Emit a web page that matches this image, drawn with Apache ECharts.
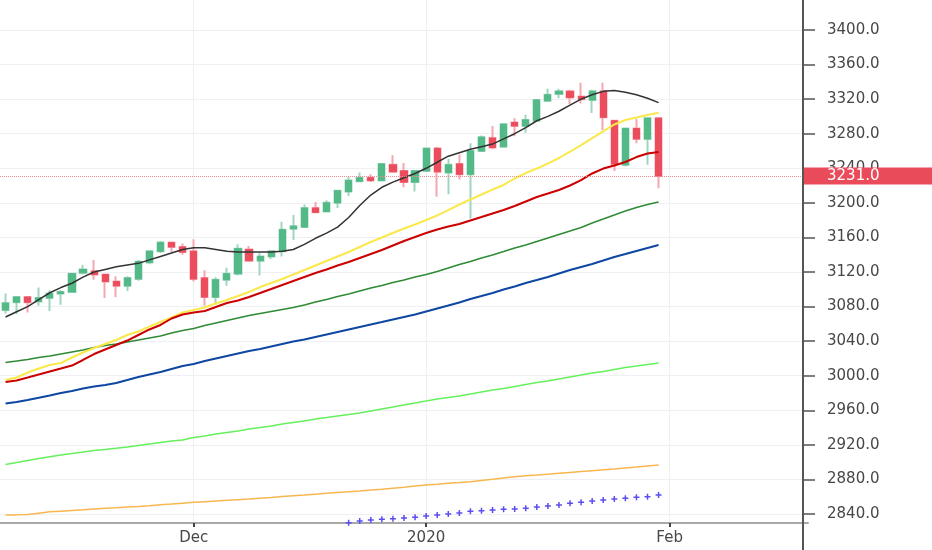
<!DOCTYPE html>
<html>
<head>
<meta charset="utf-8">
<title>Daily candles with moving averages</title>
<script src="https://cdn.jsdelivr.net/npm/echarts@6.0.0/dist/echarts.min.js"></script>
<style>
  html, body { margin: 0; padding: 0; background: #fff; }
  #main { width: 932px; height: 550px; }
</style>
</head>
<body>
<div id="main"></div>
<script>
// trading days, then empty days on the right side of the chart
var dates = [
  '2019-11-07','2019-11-08','2019-11-11','2019-11-12','2019-11-13','2019-11-14','2019-11-15',
  '2019-11-18','2019-11-19','2019-11-20','2019-11-21','2019-11-22','2019-11-25','2019-11-26',
  '2019-11-27','2019-11-28','2019-11-29',
  '2019-12-02','2019-12-03','2019-12-04','2019-12-05','2019-12-06','2019-12-09','2019-12-10',
  '2019-12-11','2019-12-12','2019-12-13','2019-12-16','2019-12-17','2019-12-18','2019-12-19',
  '2019-12-20','2019-12-23','2019-12-24','2019-12-26','2019-12-27','2019-12-30','2019-12-31',
  '2020-01-02','2020-01-03','2020-01-06','2020-01-07','2020-01-08','2020-01-09','2020-01-10',
  '2020-01-13','2020-01-14','2020-01-15','2020-01-16','2020-01-17','2020-01-20','2020-01-21',
  '2020-01-22','2020-01-23','2020-01-24','2020-01-27','2020-01-28','2020-01-29','2020-01-30',
  '2020-01-31',
  '2020-02-03','2020-02-04','2020-02-05','2020-02-06','2020-02-07','2020-02-10','2020-02-11',
  '2020-02-12','2020-02-13','2020-02-14','2020-02-17','2020-02-18','2020-02-19'
];
// x axis labels
var monthTicks = { '2019-12-02': 'Dec', '2020-01-02': '2020', '2020-02-03': 'Feb' };
// y axis labels
var priceTicks = [2840, 2880, 2920, 2960, 3000, 3040, 3080, 3120, 3160, 3200, 3240, 3280, 3320, 3360, 3400];

var opens = [3076,3085,3091,3086,3090,3095,3097,3119,3121,3117,3109,3104,3112,3131,3144,3154,3149,3144,3113,3091,
             3111,3118,3146,3133,3138,3144,3170,3172,3194,3190,3200,3213,3225,3229,3226,3244,3237,3224,3237,3263,
             3235,3245,3233,3260,3275,3265,3293,3289,3295,3318,3326,3329,3323,3319,3329,3295,3244,3286,3274,3298];
var highs = [3095,3092,3092,3102,3099,3099,3119,3128,3134,3118,3115,3115,3134,3145,3156,3155,3153,3158,3122,3114,
             3125,3152,3150,3142,3145,3178,3186,3198,3201,3203,3215,3230,3235,3233,3246,3255,3246,3238,3264,3265,
             3251,3256,3269,3278,3289,3292,3298,3302,3320,3332,3332,3331,3339,3331,3339,3295,3287,3297,3298,3298];
var lows = [3072,3071,3073,3081,3075,3082,3096,3117,3111,3090,3091,3098,3110,3129,3142,3143,3140,3109,3081,3082,
            3104,3116,3132,3116,3135,3138,3157,3171,3188,3189,3194,3208,3224,3224,3225,3235,3218,3213,3236,3207,
            3210,3227,3182,3259,3262,3264,3277,3281,3294,3317,3321,3314,3315,3304,3284,3237,3242,3269,3244,3217];
var closes = [3084,3091,3085,3090,3095,3097,3118,3123,3117,3109,3104,3113,3132,3144,3154,3149,3143,3112,3091,3111,
              3118,3147,3133,3138,3144,3169,3173,3194,3189,3200,3214,3226,3229,3226,3245,3236,3224,3237,3263,3236,
              3244,3233,3260,3276,3264,3291,3289,3296,3319,3325,3329,3322,3320,3329,3299,3245,3286,3274,3298,3231];

// moving averages
var maBlack = [3068,3074,3080,3088,3096,3102,3107,3114,3120,3123,3126,3128,3130,3134,3138,3142,3146,3148,3148,3146,
               3144,3143,3143,3143,3143,3144,3146,3152,3159,3165,3172,3183,3197,3209,3218,3224,3229,3234,3240,3247,
               3254,3258,3262,3265,3268,3274,3280,3287,3295,3300,3306,3313,3320,3325,3329,3330,3328,3325,3321,3316];
var maYellow = [2995.0,2997.9,3003.7,3008.3,3012.4,3014.7,3021.1,3026.9,3032.1,3036.7,3041.3,3047.1,3051.2,3056.9,3062.1,
                3067.4,3073.1,3076.0,3078.9,3083.6,3087.6,3092.2,3096.9,3102.6,3107.3,3111.9,3117.1,3122.3,3127.5,3132.7,
                3137.9,3143.1,3148.9,3154.7,3159.9,3165.1,3170.3,3175.0,3180.2,3185.4,3191.7,3198.1,3203.9,3209.7,3215.4,
                3220.7,3228.2,3234.5,3239.7,3245.5,3251.9,3259.4,3266.9,3275.0,3282.6,3290.7,3295.9,3298.8,3301.6,3304.3];
var maRed = [2992.7,2994.5,2997.9,3001.4,3004.9,3008.3,3011.8,3018.2,3025.1,3030.3,3035.5,3040.7,3047.1,3053.5,3058.7,
             3066.2,3070.8,3073.1,3074.9,3079.5,3084.1,3087.0,3091.1,3095.7,3100.3,3105.0,3109.6,3114.2,3118.8,3122.9,
             3127.5,3131.6,3136.2,3140.8,3145.4,3150.7,3155.9,3160.5,3165.1,3169.2,3172.6,3175.5,3179.6,3183.6,3187.7,
             3191.7,3196.4,3201.6,3206.8,3210.8,3214.9,3220.1,3226.4,3234.0,3239.7,3243.2,3247.3,3253.0,3257.1,3258.8];
var maGreen = [3015.3,3017.0,3018.8,3021.1,3022.8,3025.1,3027.4,3029.7,3032.6,3034.9,3036.7,3039.0,3041.3,3043.6,3045.9,
               3049.4,3052.3,3054.6,3058.1,3061.0,3063.9,3066.8,3069.7,3072.0,3074.3,3076.6,3078.9,3081.8,3085.3,3088.2,
               3091.6,3094.5,3098.0,3101.5,3104.4,3107.8,3110.7,3114.2,3117.1,3120.6,3124.6,3128.7,3132.1,3136.2,3139.7,
               3143.7,3147.8,3151.2,3155.3,3159.3,3163.4,3167.4,3171.5,3176.7,3181.3,3186.0,3190.6,3194.6,3198.1,3201.0];
var maBlue = [2967.9,2969.6,2971.9,2974.4,2977.1,2980.0,2982.3,2985.2,2987.5,2989.3,2991.6,2995.0,2998.5,3001.4,3004.3,
              3007.8,3011.2,3013.6,3017.0,3019.9,3022.8,3025.7,3028.6,3030.9,3033.8,3036.7,3039.6,3041.9,3044.8,3047.7,
              3050.6,3053.5,3056.4,3059.3,3062.1,3065.0,3067.9,3070.8,3074.3,3077.8,3081.2,3084.7,3088.8,3092.2,3095.7,
              3099.7,3103.2,3107.3,3110.7,3114.2,3118.3,3122.3,3125.8,3129.3,3133.3,3137.4,3140.8,3144.3,3147.8,3151.2];
var maLime = [2897.3,2899.6,2901.9,2904.2,2906.3,2908.3,2910.0,2911.7,2913.5,2914.6,2916.0,2917.5,2919.3,2921.0,2922.7,
              2924.5,2925.6,2928.5,2930.2,2932.6,2934.3,2936.0,2938.3,2940.1,2941.8,2944.1,2945.9,2947.6,2949.9,2951.6,
              2953.4,2955.1,2956.9,2959.2,2961.5,2963.8,2966.1,2968.4,2970.7,2973.1,2974.8,2976.5,2978.8,2981.2,2983.5,
              2985.2,2987.5,2989.8,2992.1,2993.9,2996.2,2998.5,3000.8,3003.1,3004.9,3007.2,3009.5,3011.2,3013.0,3014.7];
var maOrange = [2838.8,2839.0,2839.5,2841.0,2842.5,2843.3,2844.1,2844.9,2845.8,2846.6,2847.3,2848.1,2848.8,2849.6,2850.6,
                2851.5,2852.5,2853.5,2854.3,2855.1,2855.8,2856.6,2857.4,2858.3,2859.2,2860.2,2861.1,2862.0,2863.0,2863.9,
                2864.9,2865.8,2866.7,2867.7,2868.6,2869.9,2871.1,2872.4,2873.6,2874.5,2875.5,2876.4,2877.4,2878.9,2880.3,
                2881.8,2883.2,2884.2,2885.1,2886.1,2887.1,2888.1,2889.1,2890.1,2891.1,2892.1,2893.3,2894.4,2895.6,2896.7];
var maPurple = [null,null,null,null,null,null,null,null,null,null,null,null,null,null,null,
                null,null,null,null,null,null,null,null,null,null,null,null,null,null,null,
                2828.5,2829.9,2831.9,2833.1,2833.9,2834.6,2835.4,2836.2,2837.7,2838.8,2840.0,2841.2,2843.1,2843.8,2844.6,
                2845.4,2845.8,2846.6,2848.1,2849.3,2850.4,2852.4,2853.5,2855.0,2856.2,2857.4,2858.2,2859.3,2860.0,2862.0];

var textColor = '#474747';
var fontFamily = 'DejaVu Sans';

// full candle for the wicks, body-only candle on top of it
var sticks = opens.map(function (o, i) {
    return [o, closes[i], lows[i], highs[i]];
});
var bodies = opens.map(function (o, i) {
    var c = closes[i];
    return [o, c, Math.min(o, c), Math.max(o, c)];
});

function isMonthTick(idx, value) {
    return monthTicks[value] !== undefined;
}

function maLine(name, data, color, width) {
    return {
        name: name,
        type: 'line',
        data: data,
        symbol: 'none',
        silent: true,
        lineStyle: { color: color, width: width },
        itemStyle: { color: color }
    };
}

// faint grid, drawn through the axes' own scales
var gridLines = priceTicks.map(function (v) { return { yAxis: v }; });
Object.keys(monthTicks).forEach(function (d) { gridLines.push({ xAxis: d }); });

var orangeLine = maLine('MA orange', maOrange, '#f7b74f', 1.5);
orangeLine.markLine = {
    silent: true,
    symbol: 'none',
    z: 0,
    animation: false,
    label: { show: false },
    lineStyle: { color: '#eef0f4', width: 1, type: 'solid' },
    data: gridLines
};

var purpleLine = {
    name: 'MA purple',
    type: 'line',
    data: maPurple,
    symbol: 'path://M3,0H5V3H8V5H5V8H3V5H0V3H3Z',
    symbolSize: 6,
    showAllSymbol: true,
    silent: true,
    lineStyle: { width: 0 },
    itemStyle: { color: '#5b4ef0' }
};

var option = {
    animation: false,
    backgroundColor: '#ffffff',
    grid: { left: -2, right: 124, top: 0, bottom: 27 },
    xAxis: {
        type: 'category',
        data: dates,
        boundaryGap: true,
        axisLine: { lineStyle: { color: '#a9a9a9', width: 2 } },
        axisTick: {
            show: true,
            alignWithLabel: true,
            interval: isMonthTick,
            length: 4,
            lineStyle: { color: '#444', width: 2 }
        },
        axisLabel: {
            interval: isMonthTick,
            formatter: function (v) { return monthTicks[v] || ''; },
            color: textColor,
            fontSize: 15,
            fontFamily: fontFamily,
            margin: 8
        },
        splitLine: { show: false }
    },
    yAxis: {
        type: 'value',
        position: 'right',
        offset: -5,
        min: 2829.6,
        max: 3434.7,
        scale: true,
        axisLine: { show: false },
        axisTick: {
            show: true,
            length: 12,
            customValues: priceTicks,
            lineStyle: { color: '#555', width: 1.5 }
        },
        axisLabel: {
            customValues: priceTicks,
            formatter: function (v) { return v.toFixed(1); },
            color: textColor,
            fontSize: 15,
            fontFamily: fontFamily,
            margin: 24
        },
        splitLine: { show: false }
    },
    graphic: [{
        type: 'line',
        z: 100,
        shape: { x1: 803, y1: 0, x2: 803, y2: 550 },
        style: { stroke: '#555', lineWidth: 2 }
    }],
    series: [
        {
            name: 'wicks',
            type: 'candlestick',
            data: sticks,
            barWidth: '60%',
            silent: true,
            itemStyle: {
                color: '#9fd6bf', color0: '#f3a7b0',
                borderColor: '#9fd6bf', borderColor0: '#f3a7b0',
                borderWidth: 2
            }
        },
        {
            name: 'bodies',
            type: 'candlestick',
            data: bodies,
            barWidth: '60%',
            silent: true,
            itemStyle: {
                color: '#53b987', color0: '#eb4d5c',
                borderColor: '#53b987', borderColor0: '#eb4d5c',
                borderWidth: 1
            },
            markLine: {
                silent: true,
                symbol: 'none',
                z: 10,
                animation: false,
                lineStyle: { color: '#f08a93', width: 1, type: 'dotted' },
                label: {
                    show: true,
                    position: 'end',
                    distance: -5,
                    formatter: function (p) { return Number(p.value).toFixed(1); },
                    color: '#ffffff',
                    backgroundColor: '#ea4b5b',
                    fontSize: 15,
                    fontFamily: fontFamily,
                    padding: [1, 60, 1, 24]
                },
                data: [{ yAxis: closes[closes.length - 1] }]
            }
        },
        purpleLine,
        orangeLine,
        maLine('MA lime', maLime, '#66f05c', 1.5),
        maLine('MA blue', maBlue, '#0d47a1', 2),
        maLine('MA green', maGreen, '#2f8a34', 1.5),
        maLine('MA yellow', maYellow, '#fbe84a', 2),
        maLine('MA red', maRed, '#cc0000', 2),
        maLine('MA black', maBlack, '#333333', 1.5)
    ]
};

var myChart = echarts.init(document.getElementById('main'));
myChart.setOption(option);
</script>
</body>
</html>
